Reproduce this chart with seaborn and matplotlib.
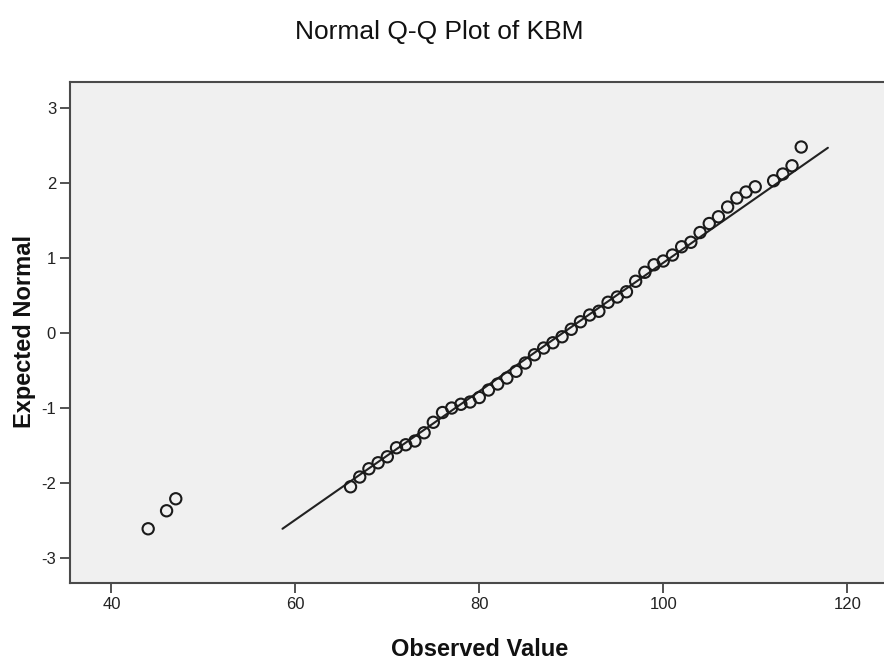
import matplotlib
matplotlib.use("Agg")
import matplotlib.pyplot as plt
import pandas as pd
import seaborn as sns

# Observed KBM values (distinct) and their expected normal scores
observed = [44, 46, 47, 66, 67, 68, 69, 70, 71, 72, 73, 74, 75, 76, 77, 78, 79,
            80, 81, 82, 83, 84, 85, 86, 87, 88, 89, 90, 91, 92, 93, 94, 95, 96,
            97, 98, 99, 100, 101, 102, 103, 104, 105, 106, 107, 108, 109, 110,
            112, 113, 114, 115]
expected = [-2.61, -2.37, -2.21, -2.05, -1.92, -1.81, -1.73, -1.65, -1.53, -1.49,
            -1.44, -1.33, -1.19, -1.06, -1.00, -0.95, -0.92, -0.86, -0.76, -0.68,
            -0.60, -0.51, -0.40, -0.29, -0.20, -0.13, -0.05, 0.05, 0.15, 0.24,
            0.29, 0.41, 0.48, 0.55, 0.69, 0.81, 0.91, 0.96, 1.04, 1.15, 1.21,
            1.34, 1.46, 1.55, 1.68, 1.80, 1.88, 1.95, 2.03, 2.12, 2.23, 2.48]

# Reference line endpoints
line_x = [58.6, 117.9]
line_y = [-2.61, 2.47]

x_ticks = [40, 60, 80, 100, 120]
y_ticks = [-3, -2, -1, 0, 1, 2, 3]

sns.set_theme(style="white")
plt.rcParams["font.family"] = ["Liberation Sans", "DejaVu Sans"]
plt.rcParams["axes.unicode_minus"] = False

fig = plt.figure(figsize=(8.84, 6.65), dpi=100)
W, H = 884, 665
left, right, top, bottom = 70, 884, 82, 583
ax = fig.add_axes([left / W, 1 - bottom / H, (right - left) / W, (bottom - top) / H])
ax.set_facecolor("#f0f0f0")

pts = pd.DataFrame({"Observed Value": observed, "Expected Normal": expected})
ref = pd.DataFrame({"x": line_x, "y": line_y})

sns.lineplot(data=ref, x="x", y="y", ax=ax, color="#222222", linewidth=1.5,
             zorder=2)
sns.scatterplot(data=pts, x="Observed Value", y="Expected Normal", ax=ax,
                marker="o", s=66, facecolors="none", edgecolors="#1a1a1a",
                linewidth=1.5, zorder=3)

ax.set_xlim(35.5, 124.0)
ax.set_ylim(-3.333, 3.347)
ax.set_xticks(x_ticks)
ax.set_yticks(y_ticks)
ax.tick_params(axis="both", which="major", direction="out", length=7,
               width=1.3, color="#444444", labelsize=12, labelcolor="#222222",
               pad=3, bottom=True, left=True)

for side in ["left", "bottom", "top"]:
    ax.spines[side].set_color("#4a4a4a")
    ax.spines[side].set_linewidth(1.5)
ax.spines["right"].set_visible(False)

ax.set_xlabel("Observed Value", fontsize=17, fontweight="bold", color="#111111")
ax.set_ylabel("Expected Normal", fontsize=17, fontweight="bold", color="#111111")
ax.xaxis.set_label_coords((480 - left) / (right - left), (bottom - 650) / (bottom - top))
ax.yaxis.set_label_coords((25 - left) / (right - left), (bottom - 332) / (bottom - top))
ax.xaxis.label.set_va("center")
ax.yaxis.label.set_va("center")

fig.text(439 / W, 1 - 32 / H, "Normal Q-Q Plot of KBM", ha="center", va="center",
         fontsize=19, color="#111111")

fig.savefig("out.png", dpi=100)
